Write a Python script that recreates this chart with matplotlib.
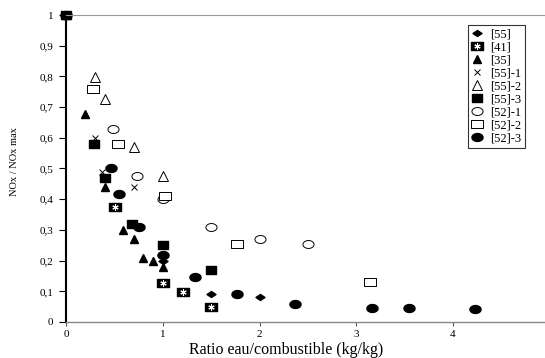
import numpy as np
import matplotlib
matplotlib.use("Agg")
import matplotlib.pyplot as plt
from matplotlib.path import Path
from matplotlib.legend_handler import HandlerTuple

plt.rcParams['font.family'] = ['Liberation Serif', 'DejaVu Serif']

# donnees
x55 = [0, 1.0, 1.5, 2.0]
y55 = [1, 0.20, 0.09, 0.08]
x41 = [0.51, 1.0, 1.21, 1.5]
y41 = [0.376, 0.128, 0.099, 0.05]
x35 = [0, 0.2, 0.40, 0.59, 0.70, 0.80, 0.90, 1.0]
y35 = [1, 0.678, 0.44, 0.30, 0.27, 0.21, 0.20, 0.18]
x55_1 = [0.30, 0.37, 0.70, 1.0]
y55_1 = [0.60, 0.49, 0.44, 0.40]
x55_2 = [0.30, 0.40, 0.70, 1.0]
y55_2 = [0.797, 0.726, 0.571, 0.477]
x55_3 = [0, 0.29, 0.40, 0.68, 1.0, 1.5]
y55_3 = [1, 0.58, 0.47, 0.32, 0.25, 0.17]
x52_1 = [0.49, 0.73, 1.0, 1.50, 2.0, 2.5]
y52_1 = [0.63, 0.477, 0.40, 0.31, 0.27, 0.253]
x52_2 = [0.28, 0.54, 1.02, 1.77, 3.14]
y52_2 = [0.76, 0.58, 0.41, 0.253, 0.13]
x52_3 = [0, 0.47, 0.55, 0.755, 1.0, 1.33, 1.77, 2.37, 3.16, 3.54, 4.23]
y52_3 = [1, 0.50, 0.417, 0.31, 0.218, 0.148, 0.091, 0.058, 0.047, 0.045, 0.042]

# marqueurs un peu aplatis comme sur l'original
rect = Path([(-0.7, -0.5), (0.7, -0.5), (0.7, 0.5), (-0.7, 0.5), (-0.7, -0.5)],
            [Path.MOVETO, Path.LINETO, Path.LINETO, Path.LINETO, Path.CLOSEPOLY])
t = np.linspace(0, 2 * np.pi, 40)
ell = Path(np.column_stack([0.7 * np.cos(t), 0.5 * np.sin(t)]))
diam = Path([(-0.75, 0), (0, 0.5), (0.75, 0), (0, -0.5), (-0.75, 0)],
            [Path.MOVETO, Path.LINETO, Path.LINETO, Path.LINETO, Path.CLOSEPOLY])

fig = plt.figure(figsize=(5.45, 3.58), dpi=100)
ax = fig.add_axes([0.121, 0.1006, 0.879, 0.8575])

kw = dict(linestyle='none', clip_on=False)
h41a, = ax.plot(x41, y41, marker=rect, ms=8, color='k', **kw)
h41b, = ax.plot(x41, y41, marker=(6, 2, 0), ms=4.5, color='w', mew=0.8, **kw)
h35, = ax.plot(x35, y35, marker='^', ms=5.5, color='k', **kw)
h55_1, = ax.plot(x55_1, y55_1, marker='x', ms=4.5, color='k', mew=0.7, **kw)
h55_2, = ax.plot(x55_2, y55_2, marker='^', ms=6.5, mfc='w', mec='k', mew=0.7, **kw)
h52_1, = ax.plot(x52_1, y52_1, marker=ell, ms=8, mfc='w', mec='k', mew=0.7, **kw)
h52_2, = ax.plot(x52_2, y52_2, marker=rect, ms=8, mfc='w', mec='k', mew=0.7, **kw)
h52_3, = ax.plot(x52_3, y52_3, marker=ell, ms=8, color='k', **kw)
h55, = ax.plot(x55, y55, marker=diam, ms=6.5, color='k', **kw)
h55_3, = ax.plot(x55_3, y55_3, marker=rect, ms=7.5, color='k', **kw)

ax.set_xlim(0, 4.95)
ax.set_ylim(0, 1)
ax.set_xticks([0, 1, 2, 3, 4])
ax.set_yticks(np.arange(0, 1.01, 0.1))
ax.set_yticklabels(['0', '0,1', '0,2', '0,3', '0,4', '0,5', '0,6', '0,7', '0,8', '0,9', '1'])
ax.tick_params(axis='both', labelsize=8, direction='out')
ax.tick_params(axis='y', length=5, width=0.8, pad=4)
ax.tick_params(axis='x', length=3, width=0.8, color='#555555', pad=3)

ax.spines['right'].set_visible(False)
ax.spines['left'].set_linewidth(1.5)
ax.spines['top'].set_color('#999999')
ax.spines['bottom'].set_color('#888888')
ax.spines['bottom'].set_linewidth(1.0)

ax.set_xlabel('Ratio eau/combustible (kg/kg)', fontsize=11.5)
ax.xaxis.set_label_coords(0.459, -0.065)
ax.set_ylabel('NOx / NOx max', fontsize=7.5)
ax.yaxis.set_label_coords(-0.097, 0.521)

leg = ax.legend([h55, (h41a, h41b), h35, h55_1, h55_2, h55_3, h52_1, h52_2, h52_3],
                ['[55]', '[41]', '[35]', '[55]-1', '[55]-2', '[55]-3', '[52]-1', '[52]-2', '[52]-3'],
                handler_map={tuple: HandlerTuple(ndivide=1)},
                loc='upper left', bbox_to_anchor=(0.839, 0.968), fontsize=9,
                frameon=True, fancybox=False, edgecolor='k', borderpad=0.3,
                handlelength=0.8, handletextpad=0.7, labelspacing=0.08,
                borderaxespad=0, markerscale=1.0)
leg.get_frame().set_linewidth(0.8)

fig.savefig('out.png', dpi=100)
